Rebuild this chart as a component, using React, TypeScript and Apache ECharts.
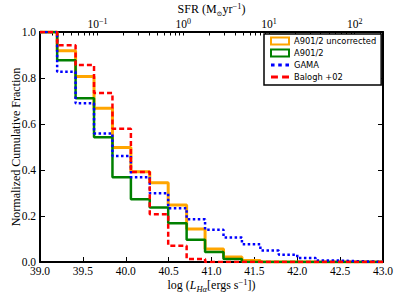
import React, { useEffect, useRef } from 'react';
import * as echarts from 'echarts';

// Left edges (log L_Halpha) of each cumulative step, from the picture
const xEdges = [39.0, 39.2, 39.415, 39.63, 39.845, 40.06, 40.28, 40.495, 40.71, 40.925, 41.14, 41.355, 41.57, 41.785, 42.0, 42.215, 42.43, 42.645, 42.86];
const xEnd = 43.0;

// Normalized cumulative fraction levels for each step
const uncorrected = [1.0, 0.918, 0.806, 0.668, 0.498, 0.392, 0.345, 0.248, 0.143, 0.056, 0.022, 0.007, 0, 0, 0, 0, 0, 0, 0];
const a901 = [1.0, 0.877, 0.712, 0.542, 0.369, 0.273, 0.237, 0.169, 0.097, 0.044, 0.013, 0, 0, 0, 0, 0, 0, 0, 0];
const gama = [1.0, 0.827, 0.69, 0.559, 0.461, 0.369, 0.299, 0.234, 0.186, 0.14, 0.107, 0.077, 0.05, 0.032, 0.017, 0.007, 0.004, 0.002, 0.001];
const balogh = [1.0, 0.942, 0.856, 0.735, 0.579, 0.391, 0.208, 0.071, 0.013, 0, 0, 0, 0, 0, 0, 0, 0, 0, 0];

const seriesNames = ['A901/2 uncorrected', 'A901/2', 'GAMA', 'Balogh +02'];

// Top axis: log SFR = log L - sfrOffset
const sfrOffset = 40.67;
const sfrMajor = [-1, 0, 1, 2];
const sfrDecades = [-2, -1, 0, 1, 2];
const sfrMinorMultipliers = [2, 3, 4, 5, 6, 7, 8, 9];

const serif = 'Liberation Serif';

function stepData(levels: number[]) {
  const pts: number[][] = xEdges.map((x, i) => [x, levels[i]]);
  pts.push([xEnd, levels[levels.length - 1]]);
  return pts;
}

export default function App() {
  const ref = useRef<HTMLDivElement>(null);
  useEffect(() => {
    if (!ref.current) return;
    const chart = echarts.init(ref.current, null, { renderer: 'svg' });
    const topMin = 39 - sfrOffset;
    const topMax = 43 - sfrOffset;
    const ticks: number[] = [...sfrMajor];
    sfrDecades.forEach((d) => sfrMinorMultipliers.forEach((m) => {
      const v = d + Math.log10(m);
      if (v > topMin && v < topMax) ticks.push(v);
    }));
    ticks.sort((a, b) => a - b);
    const lineBase = { type: 'line', step: 'end', symbol: 'none', showSymbol: false, xAxisIndex: 0, yAxisIndex: 0 };
    const frame = { show: true, onZero: false, lineStyle: { color: '#000', width: 2 } };
    chart.setOption({
      animation: false,
      backgroundColor: '#fff',
      grid: { left: 40, right: 16, top: 32, bottom: 37, containLabel: false, outerBoundsMode: 'none' },
      legend: {
        orient: 'vertical', left: 264, top: 34,
        itemWidth: 18, itemHeight: 7, itemGap: 2,
        padding: [2, 5, 3, 6],
        backgroundColor: '#fff', borderColor: '#000', borderWidth: 1.5, borderRadius: 0,
        textStyle: { fontFamily: 'DejaVu Sans', fontSize: 8.3, color: '#000', lineHeight: 10 },
        data: [
          { name: seriesNames[0], icon: 'rect', itemStyle: { color: '#fff', borderColor: '#FFA500', borderWidth: 2 } },
          { name: seriesNames[1], icon: 'rect', itemStyle: { color: '#fff', borderColor: '#008000', borderWidth: 2 } },
          { name: seriesNames[2], icon: 'path://M0,0h3.3v2.7h-3.3z M6.7,0h3.3v2.7h-3.3z M13.4,0h3.3v2.7h-3.3z', itemStyle: { color: '#0000FF', borderWidth: 0 } },
          { name: seriesNames[3], icon: 'path://M0,0h6.7v2.7h-6.7z M10.7,0h6.7v2.7h-6.7z', itemStyle: { color: '#FF0000', borderWidth: 0 } },
        ],
      },
      xAxis: [
        {
          type: 'value', position: 'bottom', min: 39, max: 43, interval: 0.5,
          axisLine: frame,
          axisTick: { show: true, inside: true, length: 5, lineStyle: { color: '#000', width: 1 } },
          splitLine: { show: false },
          axisLabel: { margin: 3, color: '#000', fontFamily: serif, fontSize: 11.5, formatter: (v: number) => v.toFixed(1) },
          name: 'log ({i|L}{sub|Hα}[ergs s{sup|−1}])',
          nameLocation: 'middle', nameGap: 15, nameMoveOverlap: false,
          nameTextStyle: {
            color: '#000', fontFamily: serif, fontSize: 12, lineHeight: 16,
            rich: {
              i: { fontFamily: serif, fontSize: 12, fontStyle: 'italic', color: '#000' },
              sub: { fontFamily: serif, fontSize: 8.5, fontStyle: 'italic', verticalAlign: 'bottom', color: '#000' },
              sup: { fontFamily: serif, fontSize: 8.5, verticalAlign: 'top', color: '#000' },
            },
          },
        },
        {
          type: 'value', position: 'top', min: topMin, max: topMax,
          axisLine: frame,
          axisTick: { show: true, inside: false, length: -3.5, customValues: ticks, lineStyle: { color: '#000', width: 1 } },
          splitLine: { show: false },
          axisLabel: {
            margin: 2, color: '#000', fontFamily: serif, fontSize: 11.5, lineHeight: 13,
            customValues: sfrMajor,
            formatter: (v: number) => '10{s|' + String(Math.round(v)).replace('-', '−') + '}',
            rich: { s: { fontFamily: serif, fontSize: 8, verticalAlign: 'top', color: '#000' } },
          },
          name: 'SFR (M{sub|⊙}yr{sup|−1})',
          nameLocation: 'middle', nameGap: 15, nameMoveOverlap: false,
          nameTextStyle: {
            color: '#000', fontFamily: serif, fontSize: 12, lineHeight: 16,
            rich: {
              sub: { fontFamily: 'DejaVu Serif', fontSize: 7, verticalAlign: 'bottom', color: '#000' },
              sup: { fontFamily: serif, fontSize: 8.5, verticalAlign: 'top', color: '#000' },
            },
          },
        },
      ],
      yAxis: [
        {
          type: 'value', position: 'left', min: 0, max: 1, interval: 0.2,
          axisLine: frame,
          axisTick: { show: true, inside: true, length: 5, lineStyle: { color: '#000', width: 1 } },
          splitLine: { show: false },
          axisLabel: { margin: 4, color: '#000', fontFamily: serif, fontSize: 11.5, formatter: (v: number) => v.toFixed(1) },
          name: 'Normalized Cumulative Fraction',
          nameLocation: 'middle', nameGap: 18, nameMoveOverlap: false,
          nameTextStyle: { color: '#000', fontFamily: serif, fontSize: 12 },
        },
        {
          type: 'value', position: 'right', min: 0, max: 1, interval: 0.2,
          axisLine: frame,
          axisTick: { show: true, inside: false, length: -5, lineStyle: { color: '#000', width: 1 } },
          splitLine: { show: false },
          axisLabel: { show: false },
        },
      ],
      series: [
        { ...lineBase, name: seriesNames[0], data: stepData(uncorrected), itemStyle: { color: '#FFA500' }, lineStyle: { color: '#FFA500', width: 3 } },
        { ...lineBase, name: seriesNames[1], data: stepData(a901), itemStyle: { color: '#008000' }, lineStyle: { color: '#008000', width: 2.5 } },
        { ...lineBase, name: seriesNames[2], data: stepData(gama), itemStyle: { color: '#0000FF' }, lineStyle: { color: '#0000FF', width: 2.5, type: [2.5, 2.5] } },
        { ...lineBase, name: seriesNames[3], data: stepData(balogh), itemStyle: { color: '#FF0000' }, lineStyle: { color: '#FF0000', width: 2.5, type: [5, 3] } },
      ],
    });
    return () => chart.dispose();
  }, []);
  return <div ref={ref} style={{ position: 'absolute', left: 0, top: 0, width: 399, height: 299, background: '#fff' }} />;
}
